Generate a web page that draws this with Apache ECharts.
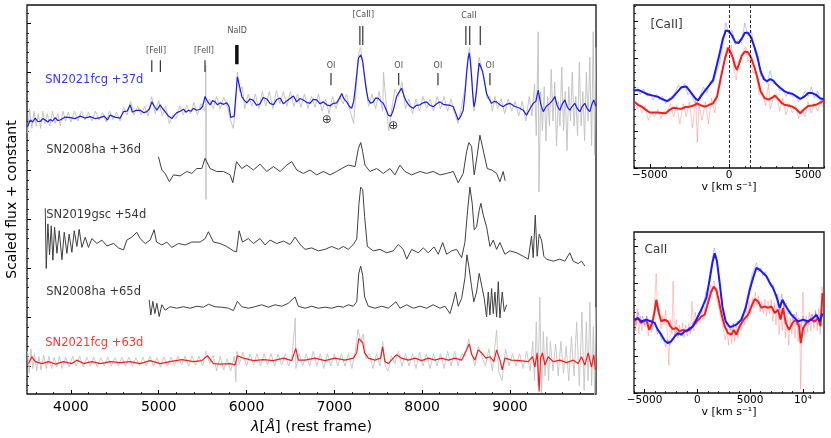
<!DOCTYPE html>
<html>
<head>
<meta charset="utf-8">
<title>SN2021fcg spectra</title>
<script src="https://cdn.jsdelivr.net/npm/echarts@6/dist/echarts.min.js"></script>
<style>
    html, body { margin: 0; padding: 0; background: #fff; }
    #chart { width: 831px; height: 438px; }
</style>
</head>
<body>
<div id="chart"></div>
<script>
    // ---- main panel: [wavelength (A), scaled flux + constant] ----
    const raw37 = [[3505,4.75],[3530,5.25],[3555,4.85],[3580,5.2],[3605,4.9],[3630,5.15],[3655,4.85],[3680,5.2],[3705,4.95],[3730,5.15],[3760,4.9],[3790,5.2],[3820,4.95],[3850,5.15],[3880,4.9],[3910,5.2],[3940,5.0],[3970,5.18],[4000,4.98],[4040,5.2],[4080,5.0],[4120,5.2],[4160,5.02],[4200,5.18],[4240,5.0],[4280,5.2],[4320,5.02],[4360,5.17],[4400,4.98],[4440,5.2],[4480,5.03],[4520,5.18],[4560,5.0],[4600,5.28],[4640,5.12],[4680,5.4],[4720,5.12],[4760,5.3],[4800,5.12],[4840,5.3],[4880,5.1],[4920,5.5],[4960,5.15],[5000,5.42],[5040,5.1],[5080,5.3],[5120,4.95],[5160,5.12],[5200,5.05],[5240,5.3],[5280,5.12],[5320,5.32],[5360,5.15],[5400,5.38],[5440,5.12],[5480,5.35],[5520,5.2],[5532,5.3],[5536,6.14],[5538,3.4],[5542,5.3],[5580,5.45],[5620,5.25],[5660,5.5],[5700,5.25],[5740,5.48],[5780,5.3],[5820,5.0],[5850,4.85],[5880,5.4],[5896,6.0],[5920,5.6],[5950,5.7],[5980,5.25],[6020,5.55],[6060,5.3],[6100,5.55],[6140,5.25],[6180,5.6],[6220,5.3],[6260,5.6],[6300,5.25],[6340,5.62],[6380,5.35],[6420,5.6],[6460,5.3],[6500,5.6],[6540,5.3],[6580,5.55],[6620,5.28],[6660,5.55],[6700,5.25],[6740,5.5],[6780,5.28],[6820,5.55],[6860,5.2],[6900,5.45],[6940,5.15],[6980,5.5],[7020,5.25],[7060,5.5],[7100,5.35],[7140,5.55],[7180,5.2],[7220,4.95],[7250,5.7],[7280,6.4],[7300,6.5],[7320,6.2],[7350,5.8],[7390,5.3],[7430,5.55],[7470,5.25],[7510,5.6],[7550,5.2],[7560,6.0],[7590,5.35],[7620,4.8],[7650,5.2],[7690,5.65],[7730,5.5],[7770,5.8],[7810,5.25],[7850,5.45],[7890,5.15],[7930,5.45],[7970,5.2],[8010,5.5],[8050,5.25],[8090,5.45],[8130,5.2],[8170,5.5],[8210,5.25],[8250,5.5],[8290,5.2],[8330,5.45],[8370,5.15],[8410,4.95],[8450,5.3],[8490,5.7],[8520,6.3],[8540,6.5],[8565,5.95],[8590,5.2],[8620,5.7],[8650,6.3],[8680,6.05],[8710,5.85],[8740,5.45],[8770,5.5],[8800,5.2],[8830,5.5],[8860,5.25],[8900,5.45],[8940,5.15],[8980,5.45],[9020,5.2],[9060,5.4],[9100,5.1],[9140,5.4],[9180,5.0],[9220,5.5],[9250,5.1],[9280,5.75],[9300,4.7],[9322,6.82],[9330,3.55],[9350,5.6],[9370,4.8],[9390,5.7],[9410,4.6],[9430,5.5],[9450,4.9],[9470,6.05],[9490,5.0],[9510,5.8],[9530,4.5],[9550,5.4],[9570,4.9],[9590,6.1],[9610,4.8],[9630,5.6],[9650,4.4],[9670,5.7],[9690,5.0],[9710,6.0],[9730,4.9],[9750,5.5],[9770,4.7],[9790,6.2],[9810,4.9],[9830,5.6],[9850,4.6],[9870,6.0],[9890,5.0],[9910,6.3],[9930,4.5],[9948,6.82],[9965,4.3],[9978,6.5]];

    const sn21fcg37 = [[3506,4.88],[3537,5.02],[3565,4.98],[3594,5.06],[3622,4.99],[3651,4.99],[3680,5.05],[3708,5.02],[3737,4.98],[3764,5.03],[3792,5.0],[3821,5.07],[3850,5.01],[3878,5.02],[3935,5.08],[3992,5.07],[4050,5.05],[4106,5.1],[4160,5.06],[4220,5.09],[4275,5.05],[4333,5.07],[4380,5.1],[4417,5.02],[4447,5.12],[4500,5.08],[4561,5.06],[4599,5.19],[4640,5.2],[4675,5.33],[4700,5.18],[4732,5.21],[4789,5.22],[4830,5.17],[4865,5.19],[4895,5.25],[4922,5.39],[4950,5.3],[4979,5.22],[5016,5.33],[5045,5.25],[5073,5.19],[5110,5.1],[5149,5.05],[5180,5.12],[5206,5.17],[5245,5.2],[5282,5.24],[5310,5.18],[5338,5.22],[5370,5.2],[5395,5.26],[5430,5.22],[5471,5.24],[5500,5.3],[5528,5.5],[5555,5.4],[5585,5.33],[5615,5.42],[5642,5.39],[5670,5.33],[5699,5.37],[5740,5.34],[5775,5.37],[5800,5.3],[5821,5.07],[5843,5.03],[5860,5.1],[5875,5.45],[5896,5.9],[5915,5.75],[5946,5.5],[5975,5.42],[6003,5.37],[6040,5.45],[6078,5.42],[6115,5.32],[6154,5.35],[6190,5.48],[6230,5.45],[6268,5.36],[6306,5.33],[6345,5.44],[6382,5.47],[6420,5.35],[6458,5.41],[6496,5.46],[6534,5.51],[6572,5.39],[6610,5.46],[6647,5.43],[6685,5.38],[6723,5.36],[6760,5.44],[6799,5.43],[6837,5.35],[6875,5.39],[6913,5.33],[6951,5.31],[6990,5.36],[7027,5.37],[7055,5.45],[7084,5.56],[7110,5.45],[7141,5.39],[7170,5.3],[7198,5.26],[7220,5.4],[7236,5.63],[7255,5.95],[7274,6.28],[7301,6.35],[7323,6.22],[7349,5.84],[7368,5.6],[7387,5.43],[7415,5.36],[7444,5.39],[7470,5.47],[7501,5.46],[7530,5.4],[7558,5.36],[7585,5.25],[7615,5.12],[7645,5.1],[7671,5.22],[7690,5.35],[7709,5.5],[7735,5.58],[7766,5.67],[7795,5.5],[7823,5.39],[7860,5.3],[7899,5.26],[7935,5.32],[7975,5.33],[8010,5.37],[8051,5.39],[8090,5.32],[8126,5.29],[8165,5.35],[8203,5.39],[8240,5.34],[8279,5.33],[8318,5.32],[8355,5.29],[8385,5.15],[8411,5.02],[8440,5.1],[8468,5.22],[8490,5.6],[8506,5.97],[8522,6.25],[8536,6.39],[8550,6.2],[8563,5.9],[8576,5.55],[8589,5.29],[8605,5.4],[8620,5.63],[8636,5.95],[8650,6.18],[8668,6.1],[8688,6.01],[8710,5.8],[8734,5.56],[8762,5.45],[8791,5.36],[8820,5.4],[8848,5.39],[8885,5.33],[8923,5.29],[8960,5.34],[8999,5.36],[9050,5.3],[9113,5.26],[9150,5.22],[9189,5.12],[9228,5.25],[9265,5.36],[9295,5.4],[9322,5.63],[9350,5.35],[9379,5.19],[9415,5.3],[9455,5.36],[9485,5.42],[9512,5.5],[9540,5.3],[9568,5.22],[9597,5.35],[9625,5.43],[9655,5.28],[9682,5.22],[9710,5.3],[9739,5.36],[9768,5.25],[9796,5.19],[9825,5.3],[9853,5.36],[9880,5.25],[9910,5.19],[9935,5.35],[9955,5.43],[9978,5.3]];

    const sn08ha36 = [[4997,4.27],[5036,4.0],[5073,3.93],[5122,3.76],[5168,3.9],[5244,3.88],[5320,3.97],[5377,3.93],[5434,4.03],[5491,4.03],[5528,4.24],[5585,4.03],[5661,3.97],[5737,3.97],[5813,3.9],[5844,3.74],[5886,4.17],[5946,4.03],[6003,4.1],[6078,4.0],[6154,4.12],[6230,3.97],[6306,4.07],[6382,3.97],[6458,4.1],[6515,4.17],[6572,4.0],[6647,3.93],[6723,4.0],[6799,3.9],[6875,3.97],[6951,3.9],[7027,3.97],[7084,4.03],[7160,4.1],[7236,4.07],[7274,4.44],[7301,4.56],[7323,4.37],[7349,4.1],[7406,3.97],[7482,4.03],[7558,3.93],[7634,4.03],[7690,3.9],[7747,4.1],[7804,3.97],[7880,3.9],[7975,3.97],[8051,3.93],[8126,3.97],[8203,3.9],[8279,3.93],[8355,3.97],[8411,3.74],[8468,3.93],[8506,4.37],[8532,4.56],[8563,4.48],[8593,3.9],[8627,4.3],[8658,4.71],[8695,4.41],[8741,4.03],[8791,4.0],[8848,3.93],[8886,3.76],[8923,3.97],[8945,3.78]];

    const sn19gsc54 = [[3708,3.22],[3719,1.99],[3738,2.9],[3757,2.27],[3776,2.86],[3795,2.16],[3814,2.83],[3841,2.3],[3867,2.76],[3898,2.17],[3924,2.73],[3954,2.3],[3980,2.69],[4011,2.32],[4038,2.76],[4068,2.44],[4094,2.79],[4125,2.42],[4163,2.63],[4200,2.42],[4239,2.6],[4296,2.5],[4353,2.57],[4410,2.45],[4485,2.5],[4542,2.41],[4599,2.37],[4637,2.57],[4694,2.63],[4750,2.73],[4789,2.6],[4846,2.5],[4902,2.57],[4948,2.78],[4975,2.53],[5036,2.47],[5092,2.53],[5149,2.42],[5225,2.5],[5301,2.47],[5377,2.53],[5472,2.53],[5528,2.6],[5566,2.74],[5623,2.53],[5699,2.5],[5775,2.44],[5850,2.35],[5886,2.33],[5916,2.76],[5954,2.53],[6020,2.6],[6078,2.5],[6154,2.6],[6211,2.47],[6268,2.57],[6344,2.5],[6420,2.55],[6496,2.48],[6553,2.63],[6610,2.48],[6667,2.38],[6743,2.41],[6818,2.35],[6894,2.38],[6970,2.44],[7046,2.38],[7102,2.44],[7159,2.38],[7216,2.48],[7255,2.59],[7281,3.32],[7300,3.65],[7323,3.6],[7345,3.05],[7376,2.44],[7444,2.35],[7520,2.38],[7596,2.31],[7671,2.35],[7728,2.48],[7785,2.38],[7824,2.18],[7881,2.38],[7956,2.31],[8013,2.41],[8070,2.31],[8135,2.43],[8184,2.28],[8234,2.52],[8279,2.28],[8336,2.35],[8393,2.38],[8450,2.21],[8487,2.52],[8518,3.18],[8544,3.65],[8570,3.32],[8593,2.78],[8620,2.84],[8650,3.18],[8669,3.32],[8696,3.08],[8734,2.84],[8772,2.44],[8810,2.57],[8848,2.38],[8886,2.52],[8943,2.28],[8999,2.35],[9076,2.31],[9151,2.24],[9208,2.18],[9246,2.65],[9265,2.21],[9288,3.08],[9310,2.24],[9333,2.69],[9360,2.57],[9386,2.24],[9417,2.18],[9492,2.14],[9568,2.18],[9625,2.14],[9682,2.31],[9720,2.14],[9777,2.09],[9815,2.14],[9853,2.04]];

    const sn08ha65 = [[4891,1.35],[4910,1.04],[4933,1.32],[4956,1.07],[4979,1.28],[5005,1.01],[5036,1.25],[5073,1.14],[5130,1.21],[5206,1.18],[5282,1.21],[5358,1.18],[5434,1.22],[5509,1.2],[5566,1.26],[5642,1.21],[5718,1.2],[5794,1.18],[5850,1.13],[5896,1.32],[5946,1.21],[6022,1.18],[6097,1.21],[6173,1.25],[6249,1.2],[6325,1.25],[6401,1.22],[6476,1.28],[6553,1.41],[6590,1.22],[6667,1.18],[6743,1.22],[6818,1.18],[6894,1.2],[6970,1.18],[7046,1.22],[7102,1.2],[7159,1.25],[7216,1.22],[7255,1.31],[7278,1.89],[7300,2.04],[7323,1.85],[7345,1.41],[7387,1.22],[7463,1.18],[7539,1.22],[7615,1.18],[7702,1.31],[7747,1.18],[7823,1.25],[7899,1.18],[7975,1.22],[8051,1.18],[8126,1.25],[8203,1.18],[8260,1.22],[8317,1.07],[8355,1.31],[8381,1.51],[8411,1.22],[8450,1.38],[8487,1.79],[8510,2.27],[8532,2.03],[8563,1.62],[8589,1.31],[8620,1.51],[8650,1.89],[8677,1.65],[8707,1.38],[8734,1.0],[8753,1.51],[8772,1.04],[8791,1.58],[8810,1.07],[8829,1.51],[8848,1.0],[8867,1.72],[8886,0.98],[8912,1.51],[8935,1.11],[8962,1.25]];

    const raw63 = [[3505,0.3],[3525,-0.15],[3545,0.35],[3565,-0.05],[3585,0.25],[3610,-0.1],[3635,0.2],[3660,-0.08],[3690,0.22],[3720,-0.05],[3750,0.2],[3780,-0.05],[3810,0.18],[3840,-0.02],[3870,0.2],[3900,-0.05],[3940,0.18],[3980,-0.02],[4020,0.2],[4060,0.0],[4100,0.2],[4140,-0.02],[4180,0.18],[4220,0.0],[4260,0.18],[4300,-0.02],[4340,0.17],[4380,0.0],[4420,0.18],[4460,0.0],[4500,0.17],[4540,0.0],[4580,0.18],[4620,0.0],[4660,0.18],[4700,0.0],[4740,0.17],[4780,0.0],[4820,0.18],[4860,0.0],[4900,0.2],[4940,0.0],[4980,0.17],[5020,-0.02],[5060,0.18],[5100,0.0],[5140,0.18],[5180,0.02],[5220,0.2],[5260,0.02],[5300,0.2],[5340,0.0],[5380,0.2],[5420,0.02],[5460,0.2],[5500,0.0],[5540,0.3],[5580,0.05],[5620,0.22],[5660,-0.1],[5700,0.2],[5740,-0.08],[5780,0.15],[5820,-0.1],[5860,0.2],[5878,-0.32],[5890,0.3],[5920,0.05],[5960,0.28],[6000,0.0],[6040,0.25],[6080,0.02],[6120,0.25],[6160,0.0],[6200,0.25],[6240,0.02],[6280,0.25],[6320,0.0],[6360,0.25],[6400,0.02],[6440,0.25],[6480,0.0],[6520,0.22],[6555,0.98],[6562,-0.05],[6600,0.25],[6640,0.0],[6680,0.25],[6720,0.0],[6760,0.3],[6800,0.0],[6840,0.25],[6880,-0.05],[6920,0.25],[6960,0.0],[7000,0.25],[7040,0.0],[7080,0.25],[7120,0.0],[7160,0.25],[7200,-0.05],[7240,0.3],[7270,0.75],[7300,0.5],[7330,0.65],[7360,0.15],[7400,0.25],[7440,-0.05],[7480,0.25],[7520,0.0],[7550,0.5],[7580,0.0],[7610,-0.1],[7650,0.2],[7690,0.05],[7730,0.3],[7770,0.0],[7810,0.25],[7850,0.0],[7890,0.25],[7930,-0.05],[7970,0.28],[8010,0.0],[8050,0.25],[8090,-0.05],[8130,0.25],[8170,0.0],[8210,0.25],[8250,-0.05],[8290,0.3],[8330,0.0],[8370,0.3],[8410,0.0],[8450,0.25],[8490,0.2],[8530,0.55],[8560,0.3],[8600,0.0],[8640,0.4],[8680,0.2],[8720,0.0],[8760,0.35],[8800,-0.1],[8848,0.73],[8870,-0.1],[8910,-0.3],[8950,0.35],[8990,0.0],[9030,0.25],[9070,0.0],[9110,0.25],[9150,-0.05],[9190,0.3],[9230,-0.1],[9260,0.5],[9280,-0.3],[9300,0.9],[9320,-0.4],[9340,1.4],[9360,-0.55],[9380,0.7],[9400,-0.2],[9420,0.6],[9440,-0.3],[9460,0.5],[9490,-0.1],[9520,0.45],[9550,-0.2],[9580,0.5],[9610,-0.15],[9640,0.4],[9670,-0.3],[9700,0.6],[9730,-0.2],[9760,0.9],[9790,-0.4],[9820,1.1],[9845,-0.5],[9870,0.9],[9890,-0.3],[9910,1.3],[9930,-0.4],[9950,0.8],[9965,-0.6],[9978,1.2]];

    const sn21fcg63 = [[3518,0.05],[3556,0.19],[3594,0.09],[3670,0.05],[3745,0.09],[3821,0.04],[3916,0.09],[4011,0.05],[4068,0.12],[4144,0.05],[4239,0.09],[4333,0.05],[4447,0.09],[4561,0.07],[4675,0.09],[4789,0.05],[4902,0.11],[5016,0.05],[5130,0.09],[5263,0.13],[5396,0.09],[5491,0.11],[5555,0.21],[5623,0.05],[5699,0.04],[5813,0.05],[5870,0.02],[5896,0.21],[5964,0.16],[6078,0.11],[6192,0.13],[6306,0.11],[6420,0.16],[6515,0.11],[6561,0.36],[6590,0.12],[6667,0.12],[6780,0.16],[6894,0.11],[7008,0.16],[7121,0.12],[7216,0.16],[7255,0.27],[7278,0.56],[7300,0.53],[7323,0.48],[7345,0.27],[7387,0.16],[7463,0.12],[7527,0.16],[7550,0.39],[7577,0.09],[7615,0.05],[7671,0.16],[7709,0.23],[7766,0.16],[7842,0.12],[7918,0.16],[7994,0.11],[8070,0.16],[8146,0.12],[8222,0.16],[8298,0.12],[8374,0.16],[8450,0.12],[8506,0.33],[8536,0.45],[8566,0.23],[8601,0.12],[8639,0.33],[8677,0.27],[8726,0.16],[8772,0.19],[8817,0.09],[8848,0.33],[8886,0.12],[8912,-0.08],[8943,0.16],[9018,0.12],[9113,0.11],[9208,0.09],[9257,0.19],[9284,-0.02],[9310,0.27],[9333,-0.52],[9348,0.16],[9371,0.27],[9398,0.02],[9436,0.19],[9492,0.09],[9568,0.12],[9644,0.07],[9720,0.12],[9777,0.05],[9815,0.19],[9853,0.02],[9891,0.27],[9929,-0.02],[9955,0.23],[9974,-0.08]];

    // line identifications: [wavelength, y bottom, y top]
    const lineMarks = [[4921,6.0,6.24],[5019,6.0,6.24],[5527,6.0,6.24],[6962,5.73,5.98],[7291,6.55,6.94],[7324,6.55,6.94],[7733,5.73,5.98],[8180,5.73,5.98],[8498,6.55,6.94],[8542,6.55,6.94],[8662,6.55,6.94],[8772,5.73,5.98]];
    const naidMark = [[5890,6.16],[5890,6.55]];
    const lineNames = [['[FeII]',4970,6.43],['[FeII]',5515,6.43],['NaID',5895,6.84],['OI',6962,6.12],['[CaII]',7330,7.16],['OI',7733,6.12],['OI',8180,6.12],['CaII',8533,7.14],['OI',8772,6.12]];
    const telluric = [['\u2295',6914,5.02],['\u2295',7671,4.9]];
    const specNames = [['SN2021fcg +37d',3708,5.84,'#0000ff'],['SN2008ha +36d',3719,4.41,'#000'],['SN2019gsc +54d',3719,3.08,'#000'],['SN2008ha +65d',3719,1.51,'#000'],['SN2021fcg +63d',3708,0.47,'#ff0000']];

    // ---- [CaII] panel: [velocity (km/s), flux] ----
    const caiiBlueRaw = [[-6000,2.1],[-5800,2.2],[-5600,2.0],[-5400,2.15],[-5200,1.95],[-5000,2.05],[-4800,1.85],[-4600,2.0],[-4400,1.85],[-4200,1.95],[-4000,1.75],[-3800,1.9],[-3600,1.95],[-3400,2.05],[-3200,2.25],[-3000,2.15],[-2800,2.3],[-2600,2.0],[-2400,2.05],[-2200,1.8],[-2000,1.78],[-1800,2.0],[-1600,2.2],[-1400,2.05],[-1200,2.35],[-1000,2.3],[-800,2.6],[-600,2.85],[-400,3.3],[-200,3.95],[0,3.65],[200,3.75],[400,3.35],[600,3.5],[800,3.4],[1000,3.95],[1200,3.6],[1400,3.75],[1600,3.3],[1800,3.15],[2000,2.5],[2200,2.5],[2400,2.3],[2600,2.65],[2800,2.3],[3000,2.3],[3200,2.1],[3400,2.15],[3600,1.95],[3800,2.1],[4000,1.95],[4200,2.0],[4400,1.8],[4600,1.9],[4800,2.1],[5000,1.95],[5200,2.2],[5400,1.9],[5600,2.1],[5800,1.8],[6000,1.95]];
    const caiiRedRaw = [[-6000,1.8],[-5800,1.6],[-5700,1.75],[-5500,1.5],[-5300,1.7],[-5100,1.3],[-4900,1.5],[-4700,1.4],[-4500,1.6],[-4300,1.35],[-4100,1.55],[-3900,1.5],[-3700,1.75],[-3500,1.4],[-3300,1.7],[-3100,1.2],[-2900,1.75],[-2700,1.4],[-2500,1.8],[-2300,1.1],[-2100,1.9],[-2000,0.7],[-1900,1.7],[-1700,1.3],[-1500,1.8],[-1300,1.2],[-1100,1.9],[-900,1.5],[-750,2.0],[-600,2.3],[-450,2.6],[-300,2.9],[-150,3.3],[0,3.1],[150,3.35],[300,2.7],[450,2.4],[600,2.9],[750,3.0],[900,3.2],[1050,3.3],[1200,2.9],[1350,3.0],[1500,2.6],[1700,2.6],[1900,2.0],[2100,2.1],[2300,1.7],[2500,2.3],[2600,1.6],[2800,1.9],[3000,2.0],[3200,1.55],[3400,1.9],[3600,1.45],[3800,1.75],[4000,1.5],[4200,1.7],[4400,1.35],[4600,1.6],[4800,1.4],[5000,1.8],[5200,1.5],[5400,1.75],[5600,1.55],[5800,1.8],[6000,1.6]];
    const caiiBlue = [[-6000,2.11],[-5700,2.12],[-5400,2.06],[-5100,2.0],[-4800,1.97],[-4500,1.94],[-4200,1.87],[-3900,1.82],[-3600,1.9],[-3300,2.05],[-3000,2.2],[-2700,2.22],[-2400,2.05],[-2100,1.88],[-1950,1.84],[-1750,1.97],[-1500,2.11],[-1250,2.25],[-1000,2.4],[-800,2.75],[-600,3.1],[-400,3.5],[-200,3.74],[0,3.72],[200,3.6],[400,3.42],[600,3.4],[800,3.52],[1000,3.68],[1200,3.68],[1400,3.55],[1600,3.3],[1800,3.0],[2000,2.63],[2200,2.42],[2400,2.36],[2600,2.42],[2800,2.38],[3000,2.27],[3250,2.18],[3500,2.09],[3750,2.04],[4000,2.02],[4250,1.95],[4500,1.88],[4750,1.94],[5000,2.04],[5250,2.04],[5500,1.99],[5750,1.9],[6000,1.87]];
    const caiiRed = [[-6000,1.81],[-5750,1.72],[-5500,1.67],[-5250,1.58],[-5000,1.51],[-4750,1.51],[-4500,1.51],[-4250,1.5],[-4000,1.49],[-3750,1.58],[-3500,1.64],[-3250,1.62],[-3000,1.61],[-2750,1.66],[-2500,1.67],[-2250,1.7],[-2000,1.76],[-1750,1.7],[-1500,1.67],[-1250,1.72],[-1000,1.76],[-750,1.95],[-500,2.49],[-250,2.99],[-50,3.27],[100,3.15],[250,2.99],[400,2.75],[500,2.67],[650,2.85],[800,3.05],[1000,3.17],[1200,3.15],[1400,3.0],[1600,2.75],[1800,2.45],[2000,2.08],[2250,1.9],[2500,1.86],[2750,1.92],[2900,1.97],[3100,1.88],[3300,1.78],[3500,1.72],[3750,1.7],[4000,1.67],[4250,1.6],[4500,1.49],[4750,1.6],[5000,1.69],[5250,1.7],[5500,1.72],[5750,1.78],[6000,1.83]];
    const caiiRest = [0, 1330];

    // ---- CaII panel ----
    const ca2BlueRaw = [[-6000,2.1],[-5800,1.85],[-5600,2.2],[-5400,1.9],[-5200,2.1],[-5000,1.85],[-4800,2.1],[-4600,1.9],[-4400,2.0],[-4200,1.8],[-4000,1.95],[-3800,1.6],[-3600,1.7],[-3400,1.45],[-3200,1.5],[-3000,1.25],[-2800,1.45],[-2600,1.3],[-2400,1.5],[-2200,1.45],[-2000,1.7],[-1800,1.55],[-1600,1.7],[-1400,1.55],[-1200,1.75],[-1000,1.65],[-800,1.8],[-600,1.7],[-400,1.95],[-200,1.9],[0,2.1],[200,2.2],[400,2.35],[600,2.45],[800,2.75],[1000,2.85],[1200,3.3],[1400,3.6],[1600,3.95],[1800,3.7],[2000,3.2],[2200,2.8],[2400,2.2],[2600,2.05],[2800,1.8],[3000,1.85],[3200,1.7],[3400,1.9],[3600,1.8],[3800,1.95],[4000,1.9],[4200,2.1],[4400,2.2],[4600,2.45],[4800,2.7],[5000,2.95],[5200,3.25],[5400,3.4],[5600,3.55],[5800,3.3],[6000,3.4],[6200,3.2],[6400,3.3],[6600,3.1],[6800,3.1],[7000,2.9],[7200,2.95],[7400,2.6],[7600,2.7],[7800,2.25],[8000,2.7],[8200,2.3],[8400,2.45],[8600,2.15],[8800,2.25],[9000,2.0],[9200,2.15],[9400,1.85],[9600,2.05],[9800,1.8],[10000,2.1],[10200,1.9],[10400,2.0],[10600,1.85],[10800,2.15],[11000,1.9],[11200,2.25],[11400,1.85],[11600,2.1],[11800,2.3],[12000,2.1]];
    const ca2RedRaw = [[-6000,2.2],[-5850,1.7],[-5700,2.3],[-5550,1.6],[-5400,2.1],[-5250,1.7],[-5100,2.0],[-4950,1.8],[-4800,2.1],[-4650,1.55],[-4500,1.9],[-4350,1.65],[-4200,2.0],[-4050,2.4],[-3900,3.25],[-3750,2.2],[-3600,2.3],[-3450,1.75],[-3300,2.1],[-3150,1.85],[-3000,2.25],[-2850,1.7],[-2700,0.75],[-2550,2.0],[-2400,1.6],[-2300,3.05],[-2150,1.55],[-2000,2.0],[-1850,1.5],[-1700,1.85],[-1550,1.55],[-1400,1.9],[-1250,1.5],[-1100,1.85],[-950,1.55],[-800,1.9],[-650,1.6],[-500,2.5],[-350,1.7],[-200,2.2],[-50,1.85],[100,2.2],[250,1.9],[400,2.3],[550,2.0],[700,2.35],[850,2.2],[1000,2.6],[1150,2.55],[1300,2.95],[1450,2.75],[1600,3.05],[1750,2.7],[1900,2.75],[2050,2.3],[2200,2.35],[2350,1.9],[2500,1.95],[2650,1.45],[2800,1.75],[2950,1.3],[3100,1.8],[3250,1.35],[3400,1.9],[3550,1.4],[3700,1.85],[3850,1.5],[4000,2.0],[4150,1.7],[4300,2.15],[4450,1.85],[4600,2.35],[4750,2.0],[4900,2.5],[5050,2.15],[5200,2.6],[5350,2.3],[5500,2.75],[5650,2.4],[5800,2.65],[5950,2.2],[6100,2.5],[6250,2.15],[6400,2.55],[6550,2.1],[6700,2.5],[6850,2.15],[7000,2.55],[7150,1.95],[7300,2.45],[7450,1.85],[7600,2.6],[7750,1.6],[7900,2.3],[8050,1.7],[8200,2.5],[8350,1.5],[8500,2.1],[8650,1.3],[8800,2.05],[8950,1.6],[9100,2.15],[9250,1.5],[9400,2.2],[9550,1.4],[9700,1.9],[9800,0.1],[9900,1.8],[10000,2.75],[10150,1.6],[10300,2.1],[10450,1.65],[10600,2.2],[10750,1.7],[10900,2.15],[11050,1.75],[11200,2.2],[11350,1.7],[11500,2.3],[11650,1.6],[11800,2.9],[12000,2.4]];
    const ca2Blue = [[-6015,2.0],[-5636,2.04],[-5313,1.95],[-4839,2.0],[-4364,1.95],[-4051,1.91],[-3738,1.72],[-3416,1.59],[-3103,1.43],[-2790,1.36],[-2467,1.41],[-2154,1.54],[-1841,1.63],[-1518,1.59],[-1205,1.68],[-892,1.72],[-417,1.82],[-95,2.0],[380,2.27],[854,2.59],[1167,3.09],[1423,3.54],[1641,3.81],[1860,3.59],[2116,3.0],[2372,2.36],[2685,1.95],[3065,1.8],[3378,1.82],[3757,1.88],[4175,2.0],[4583,2.32],[4962,2.81],[5275,3.13],[5598,3.41],[5911,3.36],[6224,3.27],[6546,3.18],[6860,3.0],[7173,2.86],[7495,2.63],[7808,2.32],[8065,2.54],[8283,2.41],[8596,2.27],[8918,2.13],[9231,2.04],[9544,1.95],[10019,2.0],[10493,1.95],[10968,2.04],[11291,2.13],[11605,1.95],[11860,2.17]];
    const ca2Red = [[-6015,1.95],[-5636,2.04],[-5313,1.91],[-4839,2.0],[-4554,1.72],[-4269,1.91],[-4051,2.22],[-3890,2.54],[-3643,2.18],[-3416,1.95],[-3103,2.0],[-2790,1.95],[-2562,1.82],[-2315,1.74],[-1993,1.77],[-1679,1.68],[-1366,1.72],[-1044,1.68],[-731,1.72],[-417,1.82],[-38,1.95],[380,2.09],[693,2.13],[1006,2.45],[1328,2.77],[1547,2.9],[1803,2.81],[2049,2.5],[2306,2.13],[2590,1.82],[2903,1.63],[3226,1.59],[3444,1.72],[3700,1.59],[4013,1.82],[4393,2.0],[4801,2.13],[5124,2.36],[5437,2.56],[5750,2.5],[6072,2.32],[6385,2.36],[6698,2.32],[7021,2.36],[7334,2.18],[7647,2.27],[7875,2.0],[8122,2.32],[8378,1.91],[8691,1.72],[9013,1.91],[9326,2.0],[9639,1.82],[9801,1.36],[10019,1.77],[10342,1.91],[10721,2.0],[11129,1.95],[11442,2.04],[11670,1.82],[11860,2.72]];

    // tick positions
    const mainXTicks = [4000, 5000, 6000, 7000, 8000, 9000];
    const mainYTicks = [0, 1, 2, 3, 4, 5, 6, 7];
    const caiiXTicks = [-5000, 0, 5000];
    const ca2XTicks = [-5000, 0, 5000, 10000];
    const panelYTicks = [0, 1, 2, 3, 4];

    const FONT = 'DejaVu Sans';
    const BLUE = '#1a1aff';
    const RED = '#ff1a1a';
    const DARK = '#404040';

    function steps(a, b, step, majorStep) {
        const out = [];
        for (let i = Math.ceil(a / step - 1e-9); i * step <= b + 1e-9; i++) {
            const v = +(i * step).toFixed(6);
            if (Math.abs(v / majorStep - Math.round(v / majorStep)) > 1e-6) out.push(v);
        }
        return out;
    }
    function minus(v) {
        return v < 0 ? '\u2212' + Math.abs(v) : String(v);
    }

    // one axis carries the major ticks (and labels), its twin only the minor ticks
    function axisPair(gridIndex, pos, min, max, major, minorStep, majorStep, label, extra) {
        const main = Object.assign({
            type: 'value', gridIndex: gridIndex, position: pos, min: min, max: max,
            axisLine: {show: false, onZero: false},
            splitLine: {show: false},
            axisTick: {show: true, inside: true, length: 4, customValues: major, lineStyle: {color: '#000', width: 1}},
            axisLabel: label ? Object.assign({show: true, customValues: major, color: '#000', fontFamily: FONT}, label) : {show: false}
        }, extra || {});
        const minor = {
            type: 'value', gridIndex: gridIndex, position: pos, min: min, max: max,
            axisLine: {show: false, onZero: false},
            splitLine: {show: false},
            axisLabel: {show: false},
            axisTick: {show: true, inside: true, length: 2, customValues: steps(min, max, minorStep, majorStep), lineStyle: {color: '#000', width: 0.8}}
        };
        return [main, minor];
    }

    const xAxes = [].concat(
        axisPair(0, 'bottom', 3500, 9980, mainXTicks, 200, 1000, {fontSize: 14, margin: 6, formatter: minus}, {
            name: '{i|\u03bb}[{i|\u00c5}] (rest frame)', nameLocation: 'middle', nameGap: 26,
            nameTextStyle: {fontFamily: FONT, fontSize: 14.5, color: '#000', rich: {i: {fontFamily: FONT, fontSize: 14.5, fontStyle: 'italic', color: '#000'}}}
        }),
        axisPair(1, 'bottom', -6000, 6000, caiiXTicks, 1000, 5000, {fontSize: 10.5, margin: 2, formatter: minus}, {
            name: 'v [km s\u207b\u00b9]', nameLocation: 'middle', nameGap: 12,
            nameTextStyle: {fontFamily: FONT, fontSize: 11, color: '#000'}
        }),
        axisPair(2, 'bottom', -6000, 12000, ca2XTicks, 1000, 5000, {fontSize: 10.5, margin: 2, formatter: function (v) { return v === 10000 ? '10\u2074' : minus(v); }}, {
            name: 'v [km s\u207b\u00b9]', nameLocation: 'middle', nameGap: 10,
            nameTextStyle: {fontFamily: FONT, fontSize: 11, color: '#000'}
        })
    );
    const yAxes = [].concat(
        axisPair(0, 'left', -0.571, 7.367, mainYTicks, 0.2, 1, null, {
            name: 'Scaled flux + constant', nameLocation: 'middle', nameGap: 8,
            nameTextStyle: {fontFamily: FONT, fontSize: 14, color: '#000'}
        }),
        axisPair(1, 'left', 0, 4.436, panelYTicks, 0.2, 1, null),
        axisPair(2, 'left', 0, 4.387, panelYTicks, 0.2, 1, null)
    );

    function line(data, xi, yi, color, width, z) {
        return {
            type: 'line', data: data, xAxisIndex: xi, yAxisIndex: yi,
            showSymbol: false, symbol: 'none', silent: true, z: z || 2,
            lineStyle: {color: color, width: width}
        };
    }
    function texts(items, xi, yi, pos, fontSize, color) {
        return {
            type: 'scatter', xAxisIndex: xi, yAxisIndex: yi, symbolSize: 0, silent: true, z: 10,
            data: items.map(function (t) {
                return {value: [t[1], t[2]], label: {show: true, formatter: t[0], position: pos, distance: 0,
                    fontFamily: FONT, fontSize: fontSize, color: t[3] || color}};
            })
        };
    }

    const series = [
        line(raw37, 0, 0, '#bfbfbf', 0.9, 1),
        line(sn21fcg37, 0, 0, BLUE, 1.2, 3),
        line(sn08ha36, 0, 0, DARK, 1, 2),
        line(sn19gsc54, 0, 0, DARK, 1, 2),
        line(sn08ha65, 0, 0, DARK, 1, 2),
        line(raw63, 0, 0, '#c4c4c4', 0.9, 1),
        line(sn21fcg63, 0, 0, RED, 1.2, 3),
        line(caiiRedRaw, 2, 2, 'rgba(255,60,60,0.3)', 1, 1),
        line(caiiBlueRaw, 2, 2, 'rgba(60,60,255,0.3)', 1, 1),
        line(caiiRed, 2, 2, RED, 2, 3),
        Object.assign(line(caiiBlue, 2, 2, BLUE, 2, 3), {
            markLine: {
                silent: true, symbol: ['none', 'none'], label: {show: false},
                lineStyle: {color: '#000', type: [3, 2], width: 0.8},
                data: caiiRest.map(function (v) { return {xAxis: v}; })
            }
        }),
        line(ca2RedRaw, 4, 4, 'rgba(255,60,60,0.28)', 1, 1),
        line(ca2BlueRaw, 4, 4, 'rgba(60,60,255,0.3)', 1, 1),
        line(ca2Red, 4, 4, RED, 2, 3),
        line(ca2Blue, 4, 4, BLUE, 2, 3),
        line(naidMark, 0, 0, '#111', 3.5, 5),
        texts(specNames, 0, 0, 'right', 11.5, '#000'),
        texts(lineNames, 0, 0, 'inside', 8, '#222'),
        texts(telluric, 0, 0, 'inside', 12, '#000'),
        texts([['[CaII]', -4956, 3.9]], 2, 2, 'right', 12, '#000'),
        texts([['CaII', -5000, 3.89]], 4, 4, 'right', 12, '#000')
    ];
    lineMarks.forEach(function (m) {
        series.push(line([[m[0], m[1]], [m[0], m[2]]], 0, 0, '#333', 1.2, 5));
    });

    const gridStyle = {show: true, borderColor: '#111', borderWidth: 1.3, backgroundColor: 'transparent', containLabel: false, outerBoundsMode: 'none'};
    const myChart = echarts.init(document.getElementById('chart'), null, {renderer: 'canvas'});
    myChart.setOption({
        animation: false,
        backgroundColor: '#fff',
        grid: [
            Object.assign({left: 27, top: 5, width: 569, height: 389}, gridStyle),
            Object.assign({left: 634, top: 5, width: 190, height: 163}, gridStyle),
            Object.assign({left: 634, top: 232, width: 190, height: 161}, gridStyle)
        ],
        xAxis: xAxes,
        yAxis: yAxes,
        series: series
    });
</script>
</body>
</html>
